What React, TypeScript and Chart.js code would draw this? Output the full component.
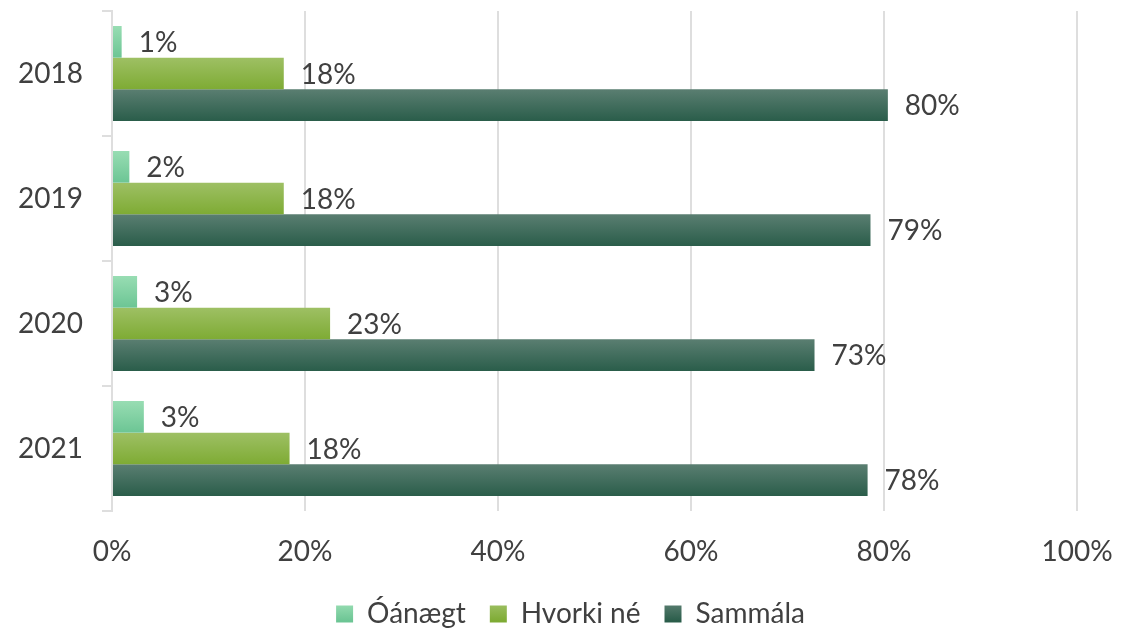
import React, { useEffect, useRef } from "react";
import { Chart, registerables } from "chart.js";

Chart.register(...registerables);

const CATEGORIES = ["2018", "2019", "2020", "2021"];
const SERIES_NAMES = ["Óánægt", "Hvorki né", "Sammála"];
const OANAEGT = [1.0, 1.8, 2.6, 3.3];
const HVORKI = [17.8, 17.8, 22.6, 18.4];
const SAMMALA = [80.4, 78.6, 72.8, 78.3];
const X_TICKS = [0, 20, 40, 60, 80, 100];

const GRADIENTS: [string, string][] = [
  ["#98ddb3", "#6cc594"],
  ["#9ec064", "#7eab34"],
  ["#5a7e71", "#2a5d4a"],
];
const SOLID = ["#82d3a4", "#8fb64b", "#3f6c5c"];

const FONT = "Lato, 'Open Sans', sans-serif";
const TEXT = "#404040";
const GRID = "#dedede";
const CAT_PCT = 0.76;
const FS = 28;
const W = 1143;
const H = 636;

function barFill(ctx: any) {
  const ds = ctx.datasetIndex;
  const chart = ctx.chart;
  const y = chart.scales && chart.scales.y;
  if (ctx.type !== "data" || !y || !chart.chartArea) return SOLID[ds];
  const center = y.getPixelForValue(ctx.dataIndex);
  const band = (y.height / CATEGORIES.length) * CAT_PCT;
  const h = band / SERIES_NAMES.length;
  const top = center - band / 2 + ds * h;
  const g = chart.ctx.createLinearGradient(0, top, 0, top + h);
  g.addColorStop(0, GRADIENTS[ds][0]);
  g.addColorStop(1, GRADIENTS[ds][1]);
  return g;
}

const valueLabels = {
  id: "valueLabels",
  afterDatasetsDraw(chart: any) {
    const c = chart.ctx;
    c.save();
    c.font = `${FS}px ${FONT}`;
    c.fillStyle = TEXT;
    c.textAlign = "left";
    c.textBaseline = "middle";
    chart.data.datasets.forEach((ds: any, di: number) => {
      const meta = chart.getDatasetMeta(di);
      meta.data.forEach((el: any, i: number) => {
        const v = ds.data[i];
        c.fillText(`${Math.round(v)}%`, el.x + 17, el.y + 1);
      });
    });
    c.restore();
  },
};

const legendShift = {
  id: "legendShift",
  afterLayout(chart: any) {
    const lg = chart.legend;
    if (!lg) return;
    lg.left += 32;
    lg.right += 32;
    lg.top += 2;
    lg.bottom += 2;
  },
};

export default function App() {
  const ref = useRef<HTMLCanvasElement>(null);
  useEffect(() => {
    let chart: Chart | null = null;
    let cancelled = false;
    const make = () => {
      if (cancelled || !ref.current) return;
      chart = new Chart(ref.current, {
        type: "bar",
        data: {
          labels: CATEGORIES,
          datasets: [OANAEGT, HVORKI, SAMMALA].map((d, i) => ({
            label: SERIES_NAMES[i],
            data: d,
            backgroundColor: barFill,
            borderWidth: 0,
            categoryPercentage: CAT_PCT,
            barPercentage: 1,
          })),
        },
        options: {
          indexAxis: "y",
          responsive: false,
          animation: false,
          layout: { padding: { top: 11, right: 66, bottom: 0, left: 0 } },
          plugins: {
            tooltip: { enabled: false },
            legend: {
              position: "bottom",
              labels: {
                color: TEXT,
                font: { family: FONT, size: FS },
                boxWidth: 17,
                boxHeight: 17,
                padding: 24,
                generateLabels: (ch: any) => {
                  const items = Chart.defaults.plugins.legend.labels.generateLabels(ch);
                  return items.map((it: any, i: number) => {
                    const g = ch.ctx.createLinearGradient(0, 603, 0, 621);
                    g.addColorStop(0, GRADIENTS[i][0]);
                    g.addColorStop(1, GRADIENTS[i][1]);
                    return { ...it, fillStyle: g, strokeStyle: "rgba(0,0,0,0)", lineWidth: 0 };
                  });
                },
              },
            },
          },
          scales: {
            x: {
              min: 0,
              max: 100,
              afterBuildTicks: (s: any) => {
                s.ticks = X_TICKS.map((v) => ({ value: v }));
              },
              afterFit: (s: any) => {
                s.height = 63;
              },
              grid: { color: GRID, lineWidth: 2, drawTicks: false },
              border: { display: false },
              ticks: {
                color: TEXT,
                font: { family: FONT, size: FS },
                padding: 24,
                callback: (v: any) => `${v}%`,
              },
            },
            y: {
              afterFit: (s: any) => {
                s.width = 112;
                s.paddingTop = 0;
                s.paddingBottom = 0;
              },
              grid: {
                drawOnChartArea: false,
                drawTicks: true,
                tickLength: 10,
                color: GRID,
                lineWidth: 2,
                offset: true,
              },
              border: { display: true, color: GRID, width: 2 },
              ticks: {
                color: TEXT,
                font: { family: FONT, size: FS },
                padding: 19,
              },
            },
          },
        },
        plugins: [valueLabels, legendShift],
      });
    };
    const fonts: any = (document as any).fonts;
    if (fonts && fonts.load) {
      fonts.load(`${FS}px Lato`).then(make, make);
    } else make();
    return () => {
      cancelled = true;
      if (chart) chart.destroy();
    };
  }, []);
  return (
    <div style={{ position: "absolute", left: 0, top: 0, width: W, height: 633, overflow: "hidden", background: "#fff" }}>
      <canvas ref={ref} width={W} height={H} style={{ width: W, height: H, display: "block" }} />
    </div>
  );
}
